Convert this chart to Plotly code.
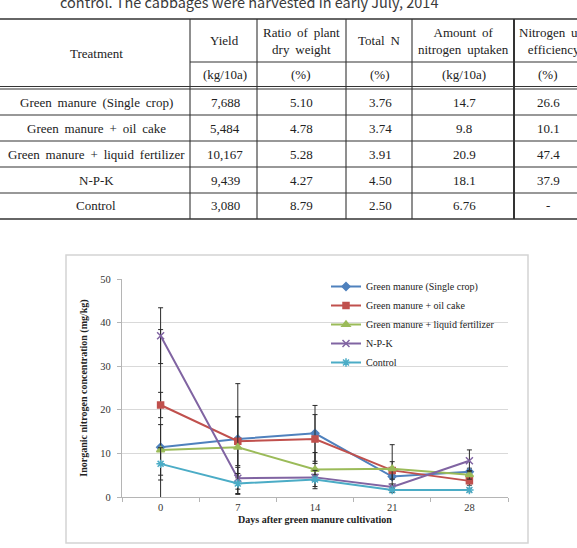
import plotly.graph_objects as go

# ---------------- data ----------------
days = ["0", "7", "14", "21", "28"]
series_names = ["Green manure (Single crop)", "Green manure + oil cake",
                "Green manure + liquid fertilizer", "N-P-K", "Control"]
gm_single = [11.4, 13.3, 14.6, 4.7, 5.8]
gm_oilcake = [21.1, 12.8, 13.3, 6.1, 3.7]
gm_liquid = [10.8, 11.4, 6.3, 6.5, 5.1]
npk = [37.0, 4.3, 4.5, 2.3, 8.3]
control = [7.6, 3.1, 4.0, 1.6, 1.6]

err_gm_single = [27.0, 12.7, 6.4, 0.6, 0.8]
err_gm_oilcake = [2.9, 5.6, 5.6, 2.0, 1.0]
err_gm_liquid = [5.8, 7.0, 3.9, 5.5, 1.0]
err_npk = [6.4, 2.5, 0.7, 0.7, 2.5]
err_control = [3.7, 2.3, 2.1, 0.4, 0.4]

y_ticks = [0, 10, 20, 30, 40, 50]

caption = "control. The cabbages were harvested in early July, 2014"
tbl_treatments = ["Green manure (Single crop)", "Green manure + oil cake",
                  "Green manure + liquid fertilizer", "N-P-K", "Control"]
tbl_headers = ["Yield", "Ratio of plant<br>dry weight", "Total N",
               "Amount of<br>nitrogen uptaken", "Nitrogen use<br>efficiency"]
tbl_units = ["(kg/10a)", "(%)", "(%)", "(kg/10a)", "(%)"]
tbl_yield = ["7,688", "5,484", "10,167", "9,439", "3,080"]
tbl_dry_ratio = ["5.10", "4.78", "5.28", "4.27", "8.79"]
tbl_total_n = ["3.76", "3.74", "3.91", "4.50", "2.50"]
tbl_n_uptake = ["14.7", "9.8", "20.9", "18.1", "6.76"]
tbl_n_eff = ["26.6", "10.1", "47.4", "37.9", "-"]

# ---------------- layout geometry (pixels) ----------------
W_FIG, H_FIG = 577, 548
L, R, T, B = 122, 508, 279, 497
PW, PH = R - L, B - T


def px(x):
    return (x - L) / PW


def py(y):
    return (B - y) / PH


serif = "Liberation Serif, Times New Roman, serif"
colors = ["#4F81BD", "#C0504D", "#9BBB59", "#8064A2", "#4BACC6"]
markers = [dict(symbol="diamond", size=6),
           dict(symbol="square", size=6),
           dict(symbol="triangle-up", size=7),
           dict(symbol="x-thin", size=7),
           dict(symbol="asterisk", size=7)]
values = [gm_single, gm_oilcake, gm_liquid, npk, control]
errors = [err_gm_single, err_gm_oilcake, err_gm_liquid, err_npk, err_control]

fig = go.Figure()
for name, vals, errs, col, mk in zip(series_names, values, errors, colors, markers):
    m = dict(mk)
    m["color"] = col
    m["line"] = dict(color=col, width=1.5)
    fig.add_trace(go.Scatter(
        x=days, y=vals, name=name, mode="lines+markers",
        line=dict(color=col, width=2), marker=m,
        error_y=dict(type="data", array=errs, visible=True,
                     color="#2a2a2a", thickness=1, width=2.5),
    ))

shapes = []
annotations = []

# chart outer frame
shapes.append(dict(type="rect", xref="paper", yref="paper",
                   x0=px(66), x1=px(528), y0=py(255), y1=py(543),
                   line=dict(color="#d4d4d4", width=1.5), layer="below"))

# ---------- table ----------
line_col = "#333333"
y_top, y_sub, y_dbl1, y_dbl2 = 19, 62, 86.5, 89
row_lines = [115, 141, 167, 193]
y_bot = 219
col_lines = [190, 257, 346, 412, 514]


def hline(y, x0=0, x1=W_FIG, w=1.1):
    shapes.append(dict(type="line", xref="paper", yref="paper",
                       x0=px(x0), x1=px(x1), y0=py(y), y1=py(y),
                       line=dict(color=line_col, width=w)))


def vline(x, y0, y1, w=1.1):
    shapes.append(dict(type="line", xref="paper", yref="paper",
                       x0=px(x), x1=px(x), y0=py(y0), y1=py(y1),
                       line=dict(color=line_col, width=w)))


hline(y_top, w=1.4)
hline(y_sub, x0=col_lines[0])
hline(y_dbl1)
hline(y_dbl2)
for yl in row_lines:
    hline(yl)
hline(y_bot, w=1.4)
for i, xl in enumerate(col_lines):
    vline(xl, y_top, y_bot, w=2 if i == len(col_lines) - 1 else 1.1)


def text(x, y, s, size=13, family=serif, color="#222222", **kw):
    annotations.append(dict(xref="paper", yref="paper", x=px(x), y=py(y),
                            text=s, showarrow=False, xanchor="center",
                            yanchor="middle",
                            font=dict(size=size, family=family, color=color), **kw))


def spaced(s):
    return s.replace(" ", " \u2009")


# caption (partially cut at top, as in the source page)
text(249, 1.5, caption, size=14.5, family="Noto Sans CJK KR, Noto Sans, sans-serif",
     color="#3a3a3a")

head_centers = [224, 301, 379, 463, 554]
data_centers = [225, 301, 380, 464, 548]
text(96, 53, "Treatment")
for c, h in zip(head_centers, tbl_headers):
    text(c, 40.5, spaced(h))
for c, u in zip(data_centers, tbl_units):
    text(c, 74.5, u)

row_centers = [102, 128, 154, 180, 206]
cols = [tbl_yield, tbl_dry_ratio, tbl_total_n, tbl_n_uptake, tbl_n_eff]
for r, yc in enumerate(row_centers):
    text(96, yc, spaced(tbl_treatments[r]))
    for c, colvals in zip(data_centers, cols):
        text(c, yc, colvals[r])

fig.update_layout(
    width=W_FIG, height=H_FIG,
    margin=dict(l=L, r=W_FIG - R, t=T, b=H_FIG - B, pad=0),
    paper_bgcolor="white", plot_bgcolor="white",
    shapes=shapes, annotations=annotations,
    showlegend=True,
    legend=dict(x=px(326), y=py(272), xanchor="left", yanchor="top",
                bgcolor="rgba(0,0,0,0)",
                font=dict(size=10, family=serif, color="#222222"),
                itemwidth=30, tracegroupgap=0),
    xaxis=dict(type="category", showgrid=False, showline=True,
               linecolor="#b5b5b5", linewidth=1.2,
               ticks="outside", tickson="boundaries", ticklen=4,
               tickcolor="#b5b5b5",
               tickfont=dict(size=10.5, family=serif, color="#333333"),
               title=dict(text="<b>Days after green manure cultivation</b>",
                          font=dict(size=10, family=serif, color="#222222"),
                          standoff=4),
               range=[-0.5, 4.5], zeroline=False),
    yaxis=dict(range=[0, 50], tickvals=y_ticks, showgrid=True,
               gridcolor="#d9d9d9", gridwidth=1.3,
               showline=True, linecolor="#b5b5b5", linewidth=1.2,
               ticks="outside", ticklen=4, tickcolor="#b5b5b5",
               tickfont=dict(size=10.5, family=serif, color="#333333"),
               ticklabelstandoff=4,
               title=dict(text="<b>Inorganic nitrogen concentration (mg/kg)</b>",
                          font=dict(size=10, family=serif, color="#222222"),
                          standoff=10),
               zeroline=False),
)

fig.write_html("out.html")
